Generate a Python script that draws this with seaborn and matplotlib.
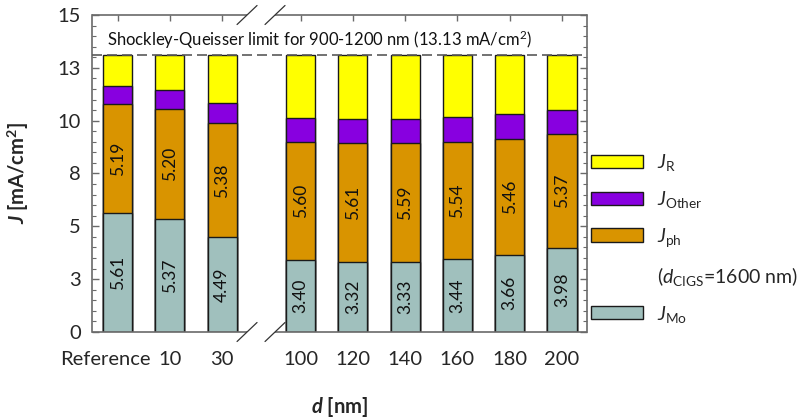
import numpy as np
import pandas as pd
import matplotlib
matplotlib.use("Agg")
import matplotlib.pyplot as plt
import matplotlib.transforms as mtransforms
from matplotlib.patches import Patch
import seaborn as sns

# ---------------- data ----------------
categories = ["Reference", "10", "30", "100", "120", "140", "160", "180", "200"]
J_Mo = [5.61, 5.37, 4.49, 3.40, 3.32, 3.33, 3.44, 3.66, 3.98]
J_ph = [5.19, 5.20, 5.38, 5.60, 5.61, 5.59, 5.54, 5.46, 5.37]
J_Other = [0.84, 0.88, 0.95, 1.11, 1.14, 1.16, 1.18, 1.18, 1.14]
SQ_limit = 13.13
J_R = [round(SQ_limit - a - b - c, 2) for a, b, c in zip(J_Mo, J_ph, J_Other)]
ytick_values = [0, 2.5, 5, 7.5, 10, 12.5, 15]
ytick_labels = ["0", "3", "5", "8", "10", "13", "15"]

# ---------------- style ----------------
sns.set_theme(style="ticks")
plt.rcParams["font.family"] = ["Lato", "DejaVu Sans"]
plt.rcParams["mathtext.fontset"] = "custom"
plt.rcParams["mathtext.rm"] = "Lato"
plt.rcParams["mathtext.it"] = "Lato:italic"
plt.rcParams["mathtext.bf"] = "Lato:bold"
plt.rcParams["mathtext.bfit"] = "Lato:italic:bold"

col_R = "#FFFF00"
col_Other = "#8800E0"
col_ph = "#D99400"
col_Mo = "#A0C0BD"
edge = "#1a1a1a"
spine_col = "#6a6a6a"

fig = plt.figure(figsize=(8.08, 4.19), dpi=100)
ax = fig.add_axes([92 / 808, (419 - 332) / 419, 495 / 808, 317 / 419])

# positions with a gap for the broken axis
idx = np.arange(len(categories))
pos = idx + np.where(idx >= 3, 0.5, 0.0)

mo = np.array(J_Mo)
ph = np.array(J_ph)
ot = np.array(J_Other)
rr = np.array(J_R)
cum_Mo = mo
cum_ph = mo + ph
cum_ot = cum_ph + ot
cum_R = cum_ot + rr

df = pd.DataFrame({"pos": pos, "Mo": cum_Mo, "ph": cum_ph, "Other": cum_ot, "R": cum_R})

for colname, c in [("R", col_R), ("Other", col_Other), ("ph", col_ph), ("Mo", col_Mo)]:
    sns.barplot(data=df, x="pos", y=colname, native_scale=True, color=c,
                saturation=1, width=0.555, errorbar=None, edgecolor=edge,
                linewidth=1.0, ax=ax)

# value labels
for x, m, p in zip(pos, mo, ph):
    ax.text(x, m / 2, f"{m:.2f}", rotation=90, ha="center", va="center",
            fontsize=12.5, color="#111111")
    ax.text(x, m + p / 2, f"{p:.2f}", rotation=90, ha="center", va="center",
            fontsize=12.5, color="#111111")

# SQ limit
ax.axhline(SQ_limit, color="#5a5a5a", lw=1.2, ls=(0, (6, 3)), zorder=5)
ax.text(0.03, 0.921, "Shockley-Queisser limit for 900-1200 nm (13.13 mA/cm$^2$)",
        transform=ax.transAxes, ha="left", va="center", fontsize=12, color="#111111")

# axes limits & ticks
ax.set_xlim(-0.488, 8.978)
ax.set_ylim(0, 15)
ax.set_xticks(pos, labels=categories)
ax.set_yticks(ytick_values, labels=ytick_labels)
ax.set_yticks(np.arange(0, 15.01, 0.5), minor=True)
ax.tick_params(axis="y", which="both", direction="in", left=True, right=True,
               color=spine_col, labelsize=14.5, pad=8)
ax.tick_params(axis="y", which="major", length=5, width=1)
ax.tick_params(axis="y", which="minor", length=3, width=0.8)
ax.tick_params(axis="x", which="both", direction="in", bottom=False, top=True,
               length=4, width=1, color=spine_col, labelsize=14.5, pad=14)
ax.set_xlabel("")
ax.set_ylabel("")

offset = mtransforms.ScaledTranslation(-12.5 / 100, 0, fig.dpi_scale_trans)
lab0 = ax.get_xticklabels()[0]
lab0.set_transform(lab0.get_transform() + offset)

# spines with break
for s in ["left", "right"]:
    ax.spines[s].set_color(spine_col)
    ax.spines[s].set_linewidth(1.2)
ax.spines["top"].set_visible(False)
ax.spines["bottom"].set_visible(False)
trans = mtransforms.blended_transform_factory(ax.transData, ax.transAxes)
gap_l, gap_r = 2.477, 3.012
xl, xr = ax.get_xlim()
for yy in [0, 1]:
    ax.plot([xl, gap_l], [yy, yy], transform=trans, color=spine_col, lw=1.2,
            clip_on=False, zorder=6, solid_capstyle="butt")
    ax.plot([gap_r, xr], [yy, yy], transform=trans, color=spine_col, lw=1.2,
            clip_on=False, zorder=6, solid_capstyle="butt")
    for gx in [gap_l, gap_r]:
        ax.plot([gx - 0.191, gx + 0.191], [yy - 0.030, yy + 0.030], transform=trans,
                color="#333333", lw=0.9, clip_on=False, zorder=6)

# axis labels
fig.text(31 / 808, 1 - 173 / 419, r"$\mathbfit{J}$ [mA/cm$^{\mathbf{2}}$]", rotation=90,
         ha="right", va="center", fontsize=14.5, fontweight="bold")
fig.text(339.5 / 808, 1 - 407 / 419, r"$\mathbfit{d}$ [nm]", ha="center", va="center",
         fontsize=14.5, fontweight="bold")

# legend
handles = [
    Patch(facecolor=col_R, edgecolor=edge, lw=1.0),
    Patch(facecolor=col_Other, edgecolor=edge, lw=1.0),
    Patch(facecolor=col_ph, edgecolor=edge, lw=1.0),
    Patch(facecolor="none", edgecolor="none"),
    Patch(facecolor=col_Mo, edgecolor=edge, lw=1.0),
]
labels = [r"$\mathit{J}_{\mathrm{R}}$", r"$\mathit{J}_{\mathrm{Other}}$",
          r"$\mathit{J}_{\mathrm{ph}}$", r"($\mathit{d}_{\mathrm{CIGS}}$=1600 nm)",
          r"$\mathit{J}_{\mathrm{Mo}}$"]
fig.legend(handles, labels, loc="upper left", bbox_to_anchor=(591 / 808, 1 - 152 / 419),
           frameon=False, fontsize=14, handlelength=2.68, handleheight=0.67,
           handletextpad=0.72, labelspacing=0.82, borderpad=0, borderaxespad=0)

fig.savefig("out.png", dpi=100)
